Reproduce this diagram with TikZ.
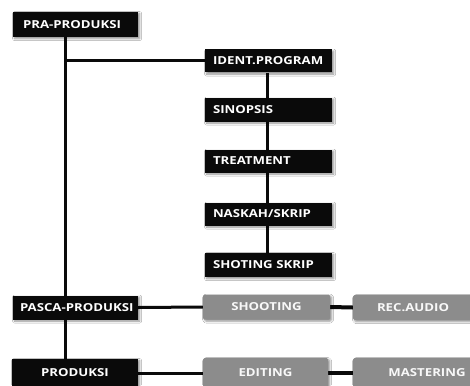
\documentclass[tikz,border=0pt]{standalone}
\usepackage{fontspec}
\setmainfont{Open Sans}[FakeStretch=1.2]
\usetikzlibrary{shadows.blur,backgrounds}
\definecolor{boxblack}{HTML}{0A0A0A}
\definecolor{boxgrey}{HTML}{8C8C8C}
\tikzset{
  shade/.style={blur shadow={shadow xshift=1.6pt, shadow yshift=-1.6pt,
      shadow blur steps=6, shadow blur radius=2pt, shadow opacity=45}},
  labelfont/.style={font=\fontsize{11}{13}\selectfont\bfseries},
  darkbox/.style={shade, fill=boxblack, text=white, inner xsep=8pt, inner ysep=0pt,
      minimum height=23pt, text width=#1-16pt, align=left, labelfont},
  darkbox/.default=127pt,
  greybox/.style={shade, fill=boxgrey, text=white!94!boxgrey, rounded corners=1.5pt,
      inner sep=0pt, minimum height=25pt, minimum width=#1, align=center, labelfont},
  greybox/.default=127pt,
  link/.style={line width=3pt, draw=boxblack},
  thicklink/.style={line width=4pt, draw=boxblack},
}
\begin{document}
\begin{tikzpicture}[x=1pt, y=-1pt]
\clip (0,0) rectangle (470,385);

% x positions of the two vertical lines
\coordinate (spine) at (65,0);
\coordinate (steps) at (267,0);

% main stages
\node[darkbox=125pt, minimum height=25pt, inner xsep=10pt, text width=105pt] (pra) at (75.5,24.5) {\mbox{PRA-PRODUKSI}};
\node[darkbox=125pt, minimum height=24pt, inner xsep=7pt, text width=111pt] (pasca) at (75.5,307.5) {\mbox{PASCA-PRODUKSI}};
\node[darkbox=126pt, minimum height=28pt, align=center] (prod) at (75,373) {PRODUKSI};

% pre-production steps
\node[darkbox] (ident) at (268.5,61) {IDENT.PROGRAM};
\node[darkbox, minimum height=24pt] (sinop) at (268.5,109.5) {SINOPSIS};
\node[darkbox] (treat) at (268.5,161) {TREATMENT};
\node[darkbox] (naskah) at (268.5,214) {NASKAH/SKRIP};
\node[darkbox, minimum height=24pt] (skrip) at (268.5,265) {SHOTING SKRIP};

% grey task boxes
\node[greybox] (shoot) at (266.5,307) {SHOOTING};
\node[greybox=120pt] (audio) at (413,307.5) {REC.AUDIO};
\node[greybox=125pt, minimum height=30pt] (edit) at (265.5,373) {EDITING};
\node[greybox=148pt, minimum height=30pt] (master) at (427,373) {MASTERING};

% connectors, kept behind the boxes
\begin{scope}[on background layer]
  \fill[white] (0,0) rectangle (470,385);
  \draw[link] (pra.south -| spine) -- (prod.north -| spine);
  \draw[link] (spine |- ident.west) -- (ident.west);
  \draw[link] (ident.south -| steps) -- (skrip.north -| steps);
  \draw[link] (pasca.east) -- (shoot.west);
  \draw[thicklink] (shoot.east) -- (audio.west);
  \draw[link] (prod.east) -- (edit.west);
  \draw[thicklink] (edit.east) -- (master.west);
\end{scope}
\end{tikzpicture}
\end{document}
